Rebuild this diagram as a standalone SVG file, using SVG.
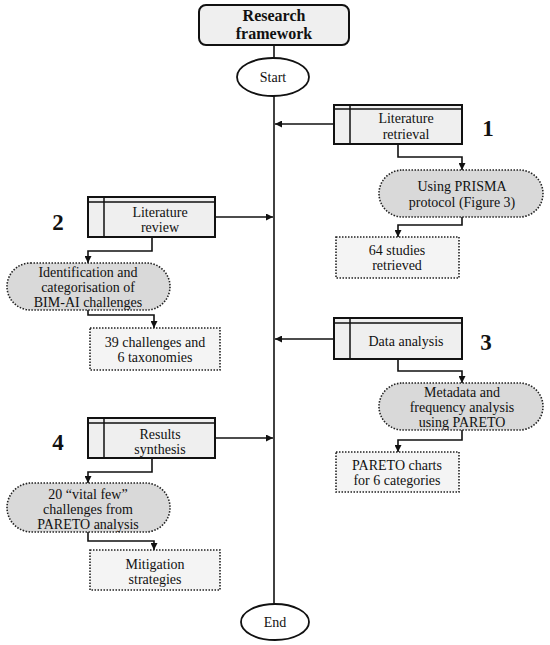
<svg xmlns="http://www.w3.org/2000/svg" width="550" height="645" viewBox="0 0 550 645">
<style>
text{font-family:"Liberation Serif","Times New Roman",serif;font-size:14px;fill:#111;text-anchor:middle}
.title{font-weight:bold;font-size:16px}
.num{font-weight:bold;font-size:23px}
.proc{fill:#efefef;stroke:#111;stroke-width:2}
.inner{stroke:#111;stroke-width:1.5;fill:none}
.stad{fill:#d9d9d9;stroke:#222;stroke-width:1.6;stroke-dasharray:1.5 1.5}
.res{fill:#f4f4f4;stroke:#222;stroke-width:1.6;stroke-dasharray:1.5 1.5}
.term{fill:#fff;stroke:#111;stroke-width:1.8}
.conn{fill:none;stroke:#111;stroke-width:1.6}
</style>
<defs>
<marker id="ah" viewBox="0 0 10 10" refX="10" refY="5" markerWidth="7" markerHeight="7" markerUnits="userSpaceOnUse" orient="auto">
<path d="M0,0 L10,5 L0,10 z" fill="#111"/>
</marker>
</defs>
<g id="connectors">
<line class="conn" x1="274" y1="45" x2="274" y2="58"/>
<line class="conn" x1="274" y1="96" x2="274" y2="604"/>
<line class="conn" x1="334" y1="124" x2="275" y2="124" marker-end="url(#ah)"/>
<path class="conn" d="M398,144 V157 H462 V170" marker-end="url(#ah)"/>
<path class="conn" d="M462,217 V225 H398 V237" marker-end="url(#ah)"/>
<line class="conn" x1="215" y1="217" x2="273" y2="217" marker-end="url(#ah)"/>
<path class="conn" d="M152,237 V251 H88 V263" marker-end="url(#ah)"/>
<path class="conn" d="M88,310 V315 H154 V328" marker-end="url(#ah)"/>
<line class="conn" x1="334" y1="339" x2="275" y2="339" marker-end="url(#ah)"/>
<path class="conn" d="M398,359 V371 H462 V383" marker-end="url(#ah)"/>
<path class="conn" d="M462,430 V440 H398 V452" marker-end="url(#ah)"/>
<line class="conn" x1="215" y1="438" x2="273" y2="438" marker-end="url(#ah)"/>
<path class="conn" d="M152,458 V472 H88 V483" marker-end="url(#ah)"/>
<path class="conn" d="M88,532 V541 H154 V550" marker-end="url(#ah)"/>
</g>
<g id="title">
<rect x="199" y="5" width="150" height="40" rx="7" fill="#efefef" stroke="#111" stroke-width="2"/>
<text class="title" x="274" y="21">Research</text>
<text class="title" x="274" y="39">framework</text>
</g>
<g id="start">
<ellipse class="term" cx="273" cy="77" rx="36" ry="19"/>
<text x="273" y="82">Start</text>
</g>
<g id="end">
<ellipse class="term" cx="275" cy="622" rx="34" ry="18"/>
<text x="275" y="627">End</text>
</g>
<g id="n1">
<rect class="proc" x="334" y="105" width="128" height="39"/>
<line class="inner" x1="334" y1="109" x2="462" y2="109"/>
<line class="inner" x1="350" y1="105" x2="350" y2="144"/>
<text x="406" y="123">Literature</text>
<text x="406" y="139">retrieval</text>
</g>
<text id="lab1" class="num" x="488" y="136">1</text>
<g id="n1a">
<rect class="stad" x="379" y="170" width="164" height="47" rx="23.5"/>
<text x="462" y="191">Using PRISMA</text>
<text x="462" y="207">protocol (Figure 3)</text>
</g>
<g id="n1b">
<rect class="res" x="336" y="237" width="123" height="41"/>
<text x="397" y="255">64 studies</text>
<text x="397" y="270">retrieved</text>
</g>
<g id="n2">
<rect class="proc" x="88" y="197" width="127" height="40"/>
<line class="inner" x1="88" y1="202" x2="215" y2="202"/>
<line class="inner" x1="104" y1="197" x2="104" y2="237"/>
<text x="160" y="217">Literature</text>
<text x="160" y="232">review</text>
</g>
<text id="lab2" class="num" x="58" y="230">2</text>
<g id="n2a">
<rect class="stad" x="7" y="263" width="163" height="47" rx="23.5"/>
<text x="88" y="277">Identification and</text>
<text x="88" y="292">categorisation of</text>
<text x="88" y="307">BIM-AI challenges</text>
</g>
<g id="n2b">
<rect class="res" x="90" y="328" width="130" height="42"/>
<text x="155" y="347">39 challenges and</text>
<text x="155" y="362">6 taxonomies</text>
</g>
<g id="n3">
<rect class="proc" x="334" y="318" width="128" height="41"/>
<line class="inner" x1="334" y1="323" x2="462" y2="323"/>
<line class="inner" x1="350" y1="318" x2="350" y2="359"/>
<text x="406" y="346">Data analysis</text>
</g>
<text id="lab3" class="num" x="486" y="350">3</text>
<g id="n3a">
<rect class="stad" x="379" y="383" width="164" height="47" rx="23.5"/>
<text x="462" y="397">Metadata and</text>
<text x="462" y="412">frequency analysis</text>
<text x="462" y="427">using PARETO</text>
</g>
<g id="n3b">
<rect class="res" x="336" y="452" width="123" height="40"/>
<text x="397" y="470">PARETO charts</text>
<text x="397" y="485">for 6 categories</text>
</g>
<g id="n4">
<rect class="proc" x="88" y="418" width="127" height="40"/>
<line class="inner" x1="88" y1="423" x2="215" y2="423"/>
<line class="inner" x1="104" y1="418" x2="104" y2="458"/>
<text x="160" y="439">Results</text>
<text x="160" y="454">synthesis</text>
</g>
<text id="lab4" class="num" x="58" y="450">4</text>
<g id="n4a">
<rect class="stad" x="7" y="483" width="163" height="49" rx="24.5"/>
<text x="88" y="499">20 “vital few”</text>
<text x="88" y="514">challenges from</text>
<text x="88" y="529">PARETO analysis</text>
</g>
<g id="n4b">
<rect class="res" x="90" y="550" width="130" height="40"/>
<text x="155" y="569">Mitigation</text>
<text x="155" y="584">strategies</text>
</g>
</svg>
